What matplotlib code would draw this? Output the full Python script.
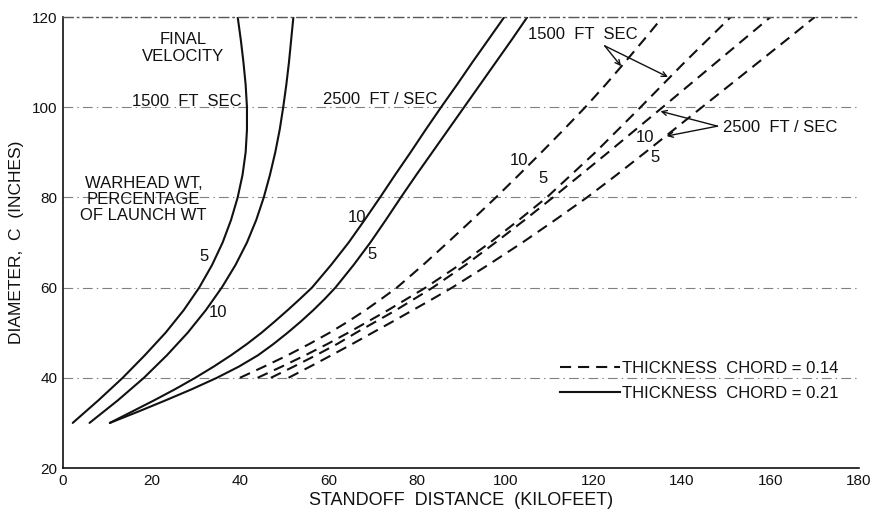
import matplotlib
matplotlib.use("Agg")
import matplotlib.pyplot as plt
from matplotlib.lines import Line2D

plt.rcParams['font.family'] = ['Liberation Sans', 'DejaVu Sans']
plt.rcParams['lines.scale_dashes'] = False

# ---------------- data (standoff distance kft, diameter in) ----------------
# Solid: thickness/chord = 0.21
s1500_5_y = [30, 35, 40, 45, 50, 55, 60, 65, 70, 75, 80, 85, 90, 95, 100, 105, 110, 115, 120]
s1500_5_x = [2.2, 8.0, 13.5, 18.5, 23.2, 27.3, 30.8, 33.7, 36.1, 38.0, 39.5, 40.6, 41.3, 41.6, 41.6, 41.3, 40.8, 40.2, 39.5]
s1500_10_y = [30, 35, 40, 45, 50, 55, 60, 65, 70, 75, 80, 85, 90, 95, 100, 105, 110, 115, 120]
s1500_10_x = [6.0, 12.4, 18.3, 23.5, 28.2, 32.3, 35.9, 39.0, 41.6, 43.7, 45.4, 46.8, 48.0, 49.0, 49.8, 50.5, 51.1, 51.6, 52.1]
s2500_10_y = [30, 32.5, 35, 37.5, 40, 42.5, 45, 47.5, 50, 52.5, 55, 57.5, 60, 65, 70, 75, 80, 85, 90, 95, 100, 105, 110, 115, 120]
s2500_10_x = [10.6, 15.6, 20.6, 25.4, 29.9, 34.1, 38.0, 41.6, 44.9, 47.9, 50.8, 53.6, 56.3, 60.6, 64.6, 68.2, 71.7, 75.1, 78.6, 82.0, 85.5, 89.1, 92.6, 96.2, 99.8]
s2500_5_y = [30, 32.5, 35, 37.5, 40, 42.5, 45, 47.5, 50, 52.5, 55, 57.5, 60, 65, 70, 75, 80, 85, 90, 95, 100, 105, 110, 115, 120]
s2500_5_x = [10.6, 17.0, 23.2, 29.2, 34.8, 39.8, 44.1, 47.6, 50.8, 53.8, 56.6, 59.2, 61.6, 65.7, 69.5, 73.0, 76.4, 79.9, 83.5, 87.1, 90.7, 94.3, 97.9, 101.5, 105.0]

# Dashed: thickness/chord = 0.14
d1500_10_y = [40, 42.5, 45, 47.5, 50, 52.5, 55, 57.5, 60, 65, 70, 75, 80, 85, 90, 95, 100, 105, 110, 115, 120]
d1500_10_x = [40.0, 45.5, 50.8, 55.7, 60.3, 64.5, 68.4, 72.0, 75.5, 81.4, 87.0, 92.5, 97.9, 103.1, 108.2, 113.2, 118.1, 122.7, 127.1, 131.4, 135.6]
d1500_5_y = [40, 42.5, 45, 47.5, 50, 55, 60, 65, 70, 75, 80, 90, 100, 110, 120]
d1500_5_x = [44.0, 49.5, 54.8, 59.8, 64.5, 73.5, 82.0, 89.6, 96.6, 103.1, 109.4, 120.4, 130.6, 140.6, 151.0]
d2500_10_y = [40, 42.5, 45, 47.5, 50, 55, 60, 65, 70, 75, 80, 90, 100, 110, 120]
d2500_10_x = [47.0, 52.2, 57.2, 62.0, 66.3, 75.3, 83.6, 91.0, 97.8, 104.4, 110.8, 123.3, 135.6, 147.8, 160.0]
d2500_5_y = [40, 42.5, 45, 47.5, 50, 52.5, 55, 57.5, 60, 65, 70, 75, 80, 85, 90, 95, 100, 105, 110, 115, 120]
d2500_5_x = [51.0, 55.9, 60.7, 65.4, 70.0, 74.6, 79.1, 83.6, 88.0, 96.1, 103.9, 111.3, 118.5, 125.2, 131.7, 138.1, 144.5, 150.9, 157.3, 163.7, 170.0]

x_ticks = [0, 20, 40, 60, 80, 100, 120, 140, 160, 180]
y_ticks = [20, 40, 60, 80, 100, 120]
legend_labels = ["THICKNESS  CHORD = 0.14", "THICKNESS  CHORD = 0.21"]

# ---------------- figure ----------------
fig = plt.figure(figsize=(8.72, 5.16), dpi=100)
ax = fig.add_axes([63/872, 48/516, 796/872, 451/516])
ax.set_xlim(0, 180)
ax.set_ylim(20, 120)

ink = '#111111'
lw = 1.5
dash = (0, (8, 5))

for xs, ys in [(s1500_5_x, s1500_5_y), (s1500_10_x, s1500_10_y),
               (s2500_10_x, s2500_10_y), (s2500_5_x, s2500_5_y)]:
    ax.plot(xs, ys, color=ink, lw=lw, solid_capstyle='round', solid_joinstyle='round')
for xs, ys in [(d1500_10_x, d1500_10_y), (d1500_5_x, d1500_5_y),
               (d2500_10_x, d2500_10_y), (d2500_5_x, d2500_5_y)]:
    ax.plot(xs, ys, color=ink, lw=lw, linestyle=dash)

# grid & spines
ax.set_xticks(x_ticks)
ax.set_yticks(y_ticks)
ax.set_xticklabels([str(v) for v in x_ticks])
ax.set_yticklabels([str(v) for v in y_ticks])
ax.tick_params(length=0, labelsize=11, colors=ink, pad=4)
ax.yaxis.grid(True, color='0.5', lw=0.8, linestyle=(0, (7, 3, 1, 3)))
ax.set_axisbelow(True)
ax.spines['right'].set_visible(False)
ax.spines['top'].set_color('0.35')
ax.spines['top'].set_linestyle((0, (7, 3, 1, 3)))
ax.spines['top'].set_linewidth(1.0)
ax.spines['left'].set_color(ink)
ax.spines['bottom'].set_color(ink)
ax.spines['left'].set_linewidth(1.2)
ax.spines['bottom'].set_linewidth(1.2)
ax.axvline(180, ymin=0.55, ymax=1.0, color='0.7', lw=0.7, linestyle=(0, (2, 3)))

ax.set_xlabel("STANDOFF  DISTANCE  (KILOFEET)", fontsize=13, color=ink, labelpad=3)
ax.set_ylabel("DIAMETER,  C  (INCHES)", fontsize=12.5, color=ink, labelpad=6)

fs = 12
def t(x, y, s, **kw):
    kw.setdefault('fontsize', fs)
    ax.text(x, y, s, ha='center', va='center', color=ink, **kw)

t(27.2, 113.1, "FINAL\nVELOCITY", linespacing=1.15)
t(27.9, 101.3, "1500  FT  SEC")
t(71.8, 101.6, "2500  FT / SEC")
t(18.2, 79.6, "WARHEAD WT,\nPERCENTAGE\nOF LAUNCH WT", linespacing=1.1)
t(31.8, 66.9, "5")
t(35.1, 54.4, "10")
t(66.4, 75.6, "10")
t(69.8, 67.3, "5")
t(103.2, 88.2, "10")
t(108.6, 84.2, "5")
t(131.5, 93.3, "10")
t(133.8, 88.9, "5")
t(117.6, 116.2, "1500  FT  SEC")
t(162.2, 95.6, "2500  FT / SEC")

arrow = dict(arrowstyle='->', color=ink, lw=1.0, shrinkA=0, shrinkB=0, mutation_scale=9)
for end in [(126.2, 109.1), (136.8, 106.7)]:
    ax.annotate("", xy=end, xytext=(122.5, 113.6), arrowprops=arrow)
for end in [(135.1, 99.1), (136.5, 93.6)]:
    ax.annotate("", xy=end, xytext=(148.0, 95.8), arrowprops=arrow)

handles = [Line2D([], [], color=ink, lw=lw, linestyle=dash),
           Line2D([], [], color=ink, lw=lw)]
leg = ax.legend(handles, legend_labels, loc='upper left', bbox_to_anchor=(0.624, 0.238),
                frameon=False, fontsize=12, handlelength=3.6, handletextpad=0.15,
                labelspacing=0.62, borderpad=0, borderaxespad=0)
for txt in leg.get_texts():
    txt.set_color(ink)

fig.savefig("out.png", dpi=100, facecolor='white')
